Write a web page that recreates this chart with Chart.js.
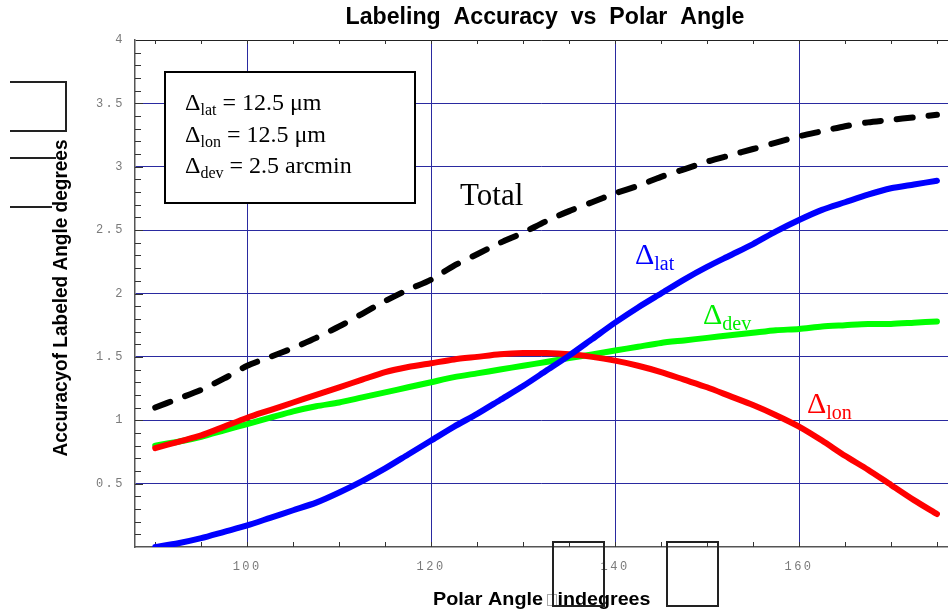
<!DOCTYPE html>
<html>
<head>
<meta charset="utf-8">
<script src="https://cdn.jsdelivr.net/npm/chart.js@4"></script>
<style>
  html, body { margin: 0; padding: 0; background: #fff; }
  canvas { display: block; }
</style>
</head>
<body>
<canvas id="myChart" width="948" height="615"></canvas>
<script>
const polarAngle = [90, 92.5, 95, 97.5, 100, 102.5, 105, 107.5, 110, 112.5, 115, 117.5, 120, 122.5, 125, 127.5, 130, 132.5, 135, 137.5, 140, 142.5, 145, 147.5, 150, 152.5, 155, 157.5, 160, 162.5, 165, 167.5, 170, 172.5, 175];
const totalAcc = [1.10, 1.17, 1.24, 1.33, 1.43, 1.50, 1.57, 1.65, 1.74, 1.84, 1.94, 2.03, 2.11, 2.22, 2.31, 2.40, 2.48, 2.57, 2.65, 2.72, 2.79, 2.85, 2.92, 2.98, 3.04, 3.09, 3.14, 3.19, 3.24, 3.28, 3.32, 3.35, 3.37, 3.39, 3.41];
const latAcc = [0.00, 0.03, 0.07, 0.12, 0.17, 0.23, 0.29, 0.35, 0.43, 0.52, 0.62, 0.73, 0.84, 0.95, 1.05, 1.16, 1.27, 1.39, 1.51, 1.64, 1.77, 1.89, 2.00, 2.11, 2.21, 2.30, 2.39, 2.49, 2.58, 2.66, 2.72, 2.78, 2.83, 2.86, 2.89];
const lonAcc = [0.78, 0.83, 0.88, 0.95, 1.02, 1.08, 1.14, 1.20, 1.26, 1.32, 1.38, 1.42, 1.45, 1.48, 1.50, 1.52, 1.53, 1.53, 1.52, 1.50, 1.47, 1.43, 1.38, 1.32, 1.26, 1.19, 1.12, 1.04, 0.95, 0.84, 0.72, 0.61, 0.49, 0.37, 0.26];
const devAcc = [0.80, 0.83, 0.87, 0.92, 0.97, 1.02, 1.07, 1.11, 1.14, 1.18, 1.22, 1.26, 1.30, 1.34, 1.37, 1.40, 1.43, 1.46, 1.49, 1.52, 1.55, 1.58, 1.61, 1.63, 1.65, 1.67, 1.69, 1.71, 1.72, 1.74, 1.75, 1.76, 1.76, 1.77, 1.78];
const xTickValues = [100, 120, 140, 160];
const yTickValues = [0.5, 1, 1.5, 2, 2.5, 3, 3.5, 4];

const NAVY = "#2a2aa0";
const FRAME = "#555";

function points(ys) {
  return polarAngle.map((x, i) => ({ x: x, y: ys[i] }));
}

function fitText(ctx, text, x, y, width, rotate) {
  // squeeze text to the width seen in the picture
  const w = ctx.measureText(text).width;
  ctx.save();
  ctx.translate(x, y);
  if (rotate) ctx.rotate(-Math.PI / 2);
  ctx.scale(width / w, 1);
  ctx.textAlign = "center";
  ctx.fillText(text, 0, 0);
  ctx.restore();
}

function deltaLabel(ctx, x, y, sub, rest, color, size, subSize) {
  ctx.fillStyle = color;
  ctx.textAlign = "left";
  ctx.font = size + 'px "Liberation Serif"';
  ctx.fillText("\u0394", x, y);
  x += ctx.measureText("\u0394").width;
  ctx.font = subSize + 'px "Liberation Serif"';
  ctx.fillText(sub, x, y + size * 0.2);
  x += ctx.measureText(sub).width;
  if (rest) {
    ctx.font = size + 'px "Liberation Serif"';
    ctx.fillText(rest, x, y);
  }
}

const decorPlugin = {
  id: "decor",
  beforeDraw(chart) {
    const ctx = chart.ctx;
    ctx.save();
    ctx.fillStyle = "#fff";
    ctx.fillRect(0, 0, chart.width, chart.height);
    ctx.restore();
    ctx.letterSpacing = "2.5px";
  },
  beforeDatasetsDraw(chart) {
    const ctx = chart.ctx;
    const xs = chart.scales.x, ys = chart.scales.y;
    const a = chart.chartArea;
    ctx.save();
    // vertical grid lines at the labelled angles
    ctx.strokeStyle = NAVY;
    ctx.lineWidth = 1;
    ctx.beginPath();
    xTickValues.forEach((v) => {
      const px = Math.round(xs.getPixelForValue(v)) + 0.5;
      ctx.moveTo(px, a.top);
      ctx.lineTo(px, a.bottom);
    });
    ctx.stroke();
    // minor ticks
    ctx.strokeStyle = "#333";
    ctx.beginPath();
    for (let v = 90; v <= 175; v += 5) {
      const px = Math.round(xs.getPixelForValue(v)) + 0.5;
      ctx.moveTo(px, a.bottom);
      ctx.lineTo(px, a.bottom - 5);
      ctx.moveTo(px, a.top);
      ctx.lineTo(px, a.top + 4);
    }
    for (let i = 1; i < 40; i++) {
      const py = Math.round(ys.getPixelForValue(i / 10)) + 0.5;
      ctx.moveTo(a.left, py);
      ctx.lineTo(a.left + (i % 5 === 0 ? 8 : 6), py);
    }
    ctx.stroke();
    ctx.restore();
  },
  afterDraw(chart) {
    const ctx = chart.ctx;
    ctx.save();
    ctx.letterSpacing = "0px";

    // legend box
    ctx.fillStyle = "#fff";
    ctx.fillRect(165, 72, 250, 131);
    ctx.strokeStyle = "#000";
    ctx.lineWidth = 2;
    ctx.strokeRect(165, 72, 250, 131);
    deltaLabel(ctx, 185, 110, "lat", " = 12.5 \u03bcm", "#000", 24, 16);
    deltaLabel(ctx, 185, 142, "lon", " = 12.5 \u03bcm", "#000", 24, 16);
    deltaLabel(ctx, 185, 173, "dev", " = 2.5 arcmin", "#000", 24, 16);

    // curve labels
    ctx.fillStyle = "#000";
    ctx.font = '31px "Liberation Serif"';
    ctx.textAlign = "left";
    ctx.fillText("Total", 460, 205);
    deltaLabel(ctx, 635, 264, "lat", "", "#0000ff", 30, 20);
    deltaLabel(ctx, 703, 324, "dev", "", "#00ee00", 30, 20);
    deltaLabel(ctx, 807, 413, "lon", "", "#ff0000", 30, 20);

    // titles
    ctx.fillStyle = "#000";
    ctx.font = 'bold 23px "Liberation Sans"';
    fitText(ctx, "Labeling  Accuracy  vs  Polar  Angle", 545, 24, 399, false);
    ctx.font = 'bold 20px "Liberation Sans"';
    fitText(ctx, "Accuracyof Labeled Angle degrees", 67, 298, 317, true);
    ctx.font = 'bold 18px "Liberation Sans"';
    fitText(ctx, "Polar Angle", 488, 605, 110, false);
    fitText(ctx, "indegrees", 604, 605, 93, false);
    ctx.strokeStyle = "#aaa";
    ctx.lineWidth = 1;
    ctx.strokeRect(547.5, 594.5, 9, 11);

    // stray frames left in the picture
    ctx.strokeStyle = "#222";
    ctx.lineWidth = 2;
    ctx.beginPath();
    ctx.moveTo(10, 82); ctx.lineTo(66, 82); ctx.lineTo(66, 131); ctx.lineTo(10, 131);
    ctx.moveTo(10, 158); ctx.lineTo(56, 158);
    ctx.moveTo(10, 207); ctx.lineTo(52, 207);
    ctx.stroke();
    ctx.strokeRect(553, 542, 51, 64);
    ctx.strokeRect(667, 542, 51, 64);
    ctx.restore();
  }
};

const ctx = document.getElementById("myChart").getContext("2d");
const myChart = new Chart(ctx, {
  type: "line",
  data: {
    datasets: [
      { label: "Total", data: points(totalAcc), borderColor: "#000", borderWidth: 6, borderDash: [16, 16], borderCapStyle: "round" },
      { label: "lat", data: points(latAcc), borderColor: "#0000ff", borderWidth: 6, borderCapStyle: "round" },
      { label: "lon", data: points(lonAcc), borderColor: "#ff0000", borderWidth: 6, borderCapStyle: "round" },
      { label: "dev", data: points(devAcc), borderColor: "#00ff00", borderWidth: 6, borderCapStyle: "round" },
    ],
  },
  options: {
    responsive: false,
    animation: false,
    events: [],
    layout: { padding: { top: 40, right: 0, left: 0, bottom: 0 } },
    elements: { point: { radius: 0 }, line: { tension: 0.25, fill: false } },
    plugins: { legend: { display: false }, title: { display: false }, tooltip: { enabled: false } },
    scales: {
      x: {
        type: "linear",
        min: 87.8,
        max: 176.2,
        afterBuildTicks: (scale) => { scale.ticks = xTickValues.map((v) => ({ value: v })); },
        afterFit: (scale) => { scale.height = 68; },
        grid: { drawOnChartArea: false, drawTicks: false },
        border: { display: true, color: FRAME, width: 1.5 },
        ticks: { color: "#7a7a7a", padding: 13, maxRotation: 0, font: { family: "Liberation Mono", size: 12 } },
      },
      y: {
        min: 0,
        max: 4,
        afterBuildTicks: (scale) => { scale.ticks = yTickValues.map((v) => ({ value: v })); },
        afterFit: (scale) => { scale.width = 135; },
        grid: { color: (c) => (c.tick && c.tick.value === 4 ? "#222" : NAVY), lineWidth: 1, drawTicks: false },
        border: { display: true, color: FRAME, width: 1.5 },
        ticks: {
          color: "#7a7a7a",
          padding: 10,
          callback: (v) => String(v),
          font: { family: "Liberation Mono", size: 12 },
        },
      },
    },
  },
  plugins: [decorPlugin],
});
</script>
</body>
</html>
